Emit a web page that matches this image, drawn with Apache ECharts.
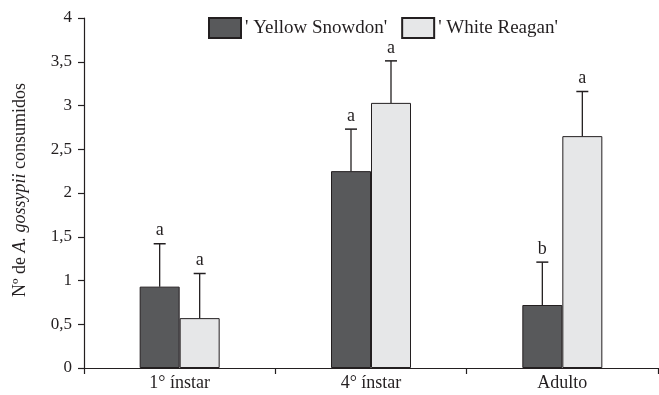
<!DOCTYPE html>
<html><head><meta charset="utf-8">
<script src="https://cdn.jsdelivr.net/npm/echarts@6/dist/echarts.min.js"></script>
<style>html,body{margin:0;padding:0;background:#fff}#c{width:659px;height:395px}</style>
</head><body><div id="c"></div>
<script>
const categories = ["1° ínstar", "4° ínstar", "Adulto"];
const seriesNames = ["' Yellow Snowdon'", "' White Reagan'"];
const yellowMeans = [0.93, 2.25, 0.72];
const yellowErr = [0.49, 0.48, 0.49];
const yellowLetters = ["a", "a", "b"];
const whiteMeans = [0.57, 3.03, 2.65];
const whiteErr = [0.51, 0.48, 0.51];
const whiteLetters = ["a", "a", "a"];
const yTicks = [0, 0.5, 1, 1.5, 2, 2.5, 3, 3.5, 4];

const FONT = "Liberation Serif";
const TXT = "#231f20";
const BW = 40;

function errSeries(means, errs, letters, offset) {
  const data = means.map((m, i) => [i, m, m + errs[i], letters[i]]);
  return {
    type: 'custom', silent: true, z: 5,
    data: data,
    encode: { x: 0, y: [1, 2] },
    renderItem: function (params, api) {
      const i = api.value(0);
      const lo = api.coord([i, api.value(1)]);
      const hi = api.coord([i, api.value(2)]);
      const x = lo[0] + offset;
      const letter = data[params.dataIndex][3];
      return {
        type: 'group',
        children: [
          { type: 'line', shape: { x1: x, y1: lo[1], x2: x, y2: hi[1] }, style: { stroke: TXT, lineWidth: 1.3 } },
          { type: 'line', shape: { x1: x - 6, y1: hi[1], x2: x + 6, y2: hi[1] }, style: { stroke: TXT, lineWidth: 1.5 } },
          { type: 'text', x: x, y: hi[1] - 4, style: { text: letter, fill: TXT, font: '18px "' + FONT + '"', align: 'center', verticalAlign: 'bottom' } }
        ]
      };
    }
  };
}

const chart = echarts.init(document.getElementById('c'));
chart.setOption({
  animation: false,
  textStyle: { fontFamily: FONT, color: TXT },
  grid: { left: 84, right: 1, top: 18, bottom: 27, containLabel: false },
  legend: {
    top: 12, left: 203, itemWidth: 32, itemHeight: 20, itemGap: 14,
    textStyle: { fontFamily: FONT, fontSize: 19, color: TXT, padding: [0, 0, 0, -1] },
    data: seriesNames, icon: 'rect'
  },
  xAxis: {
    type: 'category', data: categories,
    axisLine: { lineStyle: { color: TXT, width: 1.2 } },
    axisTick: { show: true, length: 6, lineStyle: { color: TXT, width: 1.2 } },
    axisLabel: { color: TXT, fontFamily: FONT, fontSize: 18, margin: 6 }
  },
  yAxis: {
    type: 'value', min: 0, max: 4, interval: 0.5,
    name: '{n|Nº de }{i|A. gossypii}{n| consumidos}',
    nameLocation: 'middle', nameGap: 55, nameRotate: 90,
    nameTextStyle: { padding: [0, 0, 0, 6], rich: { n: { fontFamily: FONT, fontSize: 18, color: TXT }, i: { fontFamily: FONT, fontSize: 18, fontStyle: 'italic', color: TXT } } },
    splitLine: { show: false },
    axisLine: { show: true, lineStyle: { color: TXT, width: 1.2 } },
    axisTick: { show: true, length: 6, lineStyle: { color: TXT, width: 1.2 } },
    axisLabel: { color: TXT, fontFamily: FONT, fontSize: 17, margin: 12, formatter: v => String(v).replace('.', ',') }
  },
  series: [
    { name: seriesNames[0], type: 'bar', data: yellowMeans, barWidth: BW, barGap: '0%',
      itemStyle: { color: '#58595b', borderColor: TXT, borderWidth: 1 } },
    { name: seriesNames[1], type: 'bar', data: whiteMeans, barWidth: BW, barGap: '0%',
      itemStyle: { color: '#e6e7e8', borderColor: TXT, borderWidth: 1 } },
    errSeries(yellowMeans, yellowErr, yellowLetters, -BW / 2),
    errSeries(whiteMeans, whiteErr, whiteLetters, BW / 2)
  ]
});
</script></body></html>
